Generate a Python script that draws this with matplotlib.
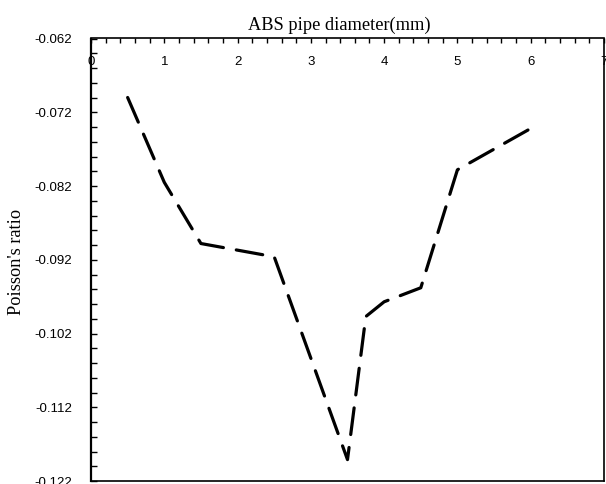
import matplotlib.pyplot as plt
from matplotlib.ticker import MultipleLocator

# Poisson's ratio vs ABS pipe diameter
diameter = [0.5, 1.0, 1.5, 2.5, 3.5, 3.75, 4.0, 4.5, 5.0, 6.0]
poisson = [-0.0700, -0.0815, -0.0898, -0.0916, -0.1191,
           -0.0997, -0.0977, -0.0958, -0.0798, -0.0742]

x_ticks = [0, 1, 2, 3, 4, 5, 6, 7]
y_ticks = [-0.122, -0.112, -0.102, -0.092, -0.082, -0.072, -0.062]

fig = plt.figure(figsize=(6.06, 4.84), dpi=100, facecolor='white')
ax = fig.add_axes([91 / 606, 3 / 484, 513 / 606, 442.5 / 484])

ax.plot(diameter, poisson, color='black', linewidth=2.3,
        linestyle=(0, (8.4, 4.1)), dash_capstyle='round', solid_joinstyle='round')

ax.set_xlim(0, 7)
ax.set_ylim(-0.122, -0.062)

# x axis sits on top, labels drawn inside the frame
ax.xaxis.tick_top()
ax.set_xticks(x_ticks)
ax.set_xticklabels([str(t) for t in x_ticks])
ax.xaxis.set_minor_locator(MultipleLocator(0.2))
ax.set_yticks(y_ticks)
ax.set_yticklabels(['%.3f' % t for t in y_ticks])
ax.yaxis.set_minor_locator(MultipleLocator(0.002))

ax.tick_params(axis='x', which='both', direction='in', top=True, bottom=False,
               length=3.5, width=1, labelsize=9.5, pad=-21.5)
ax.tick_params(axis='y', which='both', direction='in', left=True, right=False,
               length=4, width=1, labelsize=9.5, pad=13.5)
for lbl in ax.get_xticklabels() + ax.get_yticklabels():
    lbl.set_fontfamily('Liberation Sans')

for sp in ax.spines.values():
    sp.set_linewidth(1.2)
ax.spines['left'].set_linewidth(1.6)

fig.text(339.5 / 606, 1 - 25 / 484, 'ABS pipe diameter(mm)', ha='center', va='center',
         fontsize=13.2, family='Liberation Serif')
fig.text(17 / 606, 1 - 262 / 484, "Poisson's ratio", ha='center', va='center',
         rotation=90, fontsize=13.2, family='Liberation Serif')

plt.savefig('out.png', dpi=100)
